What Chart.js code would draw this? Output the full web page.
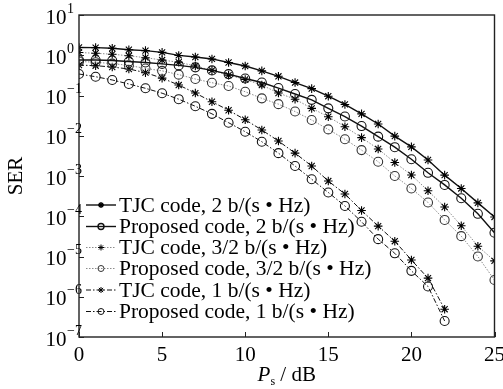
<!DOCTYPE html>
<html>
<head>
<meta charset="utf-8">
<script src="https://cdn.jsdelivr.net/npm/chart.js@4.4.1/dist/chart.umd.min.js"></script>
<style>
  body { margin: 0; background: #fff; }
  #wrap { width: 503px; height: 389px; }
</style>
</head>
<body>
<div id="wrap"><canvas id="serChart"></canvas></div>
<script>
// Ps in dB, one marker per dB
const snr = [0, 1, 2, 3, 4, 5, 6, 7, 8, 9, 10, 11, 12, 13, 14, 15, 16, 17, 18, 19, 20, 21, 22, 23, 24, 25];

const tjc2 = [1.56, 1.55, 1.49, 1.37, 1.30, 1.18, 0.99, 0.905, 0.81, 0.66, 0.54, 0.41, 0.30, 0.21, 0.148, 0.096,
  0.060, 0.035, 0.0196, 0.0098, 0.0053, 0.0025, 0.00105, 4.9e-4, 2.15e-4, 9.6e-5];
const prop2 = [0.76, 0.76, 0.74, 0.70, 0.66, 0.61, 0.56, 0.50, 0.42, 0.34, 0.264, 0.21, 0.153, 0.109, 0.078, 0.048,
  0.030, 0.0174, 0.0095, 0.0052, 0.0026, 0.0012, 6.0e-4, 2.8e-4, 1.15e-4, 3.9e-5];
const tjc32 = [1.17, 1.12, 1.06, 0.97, 0.87, 0.76, 0.67, 0.54, 0.42, 0.32, 0.25, 0.182, 0.115, 0.081, 0.048, 0.0297,
  0.0168, 0.0090, 0.0047, 0.00216, 0.00106, 4.3e-4, 1.7e-4, 5.8e-5, 1.8e-5, 7.8e-6];
const prop32 = [0.70, 0.67, 0.62, 0.56, 0.47, 0.41, 0.33, 0.257, 0.208, 0.172, 0.124, 0.085, 0.061, 0.040, 0.0246, 0.0144,
  0.0082, 0.0044, 0.00226, 0.0010, 4.9e-4, 2.2e-4, 8.1e-5, 3.2e-5, 1.0e-5, 2.6e-6];
const tjc1 = [0.57, 0.55, 0.51, 0.455, 0.37, 0.27, 0.182, 0.115, 0.070, 0.043, 0.025, 0.0139, 0.0074, 0.0037, 0.00177,
  7.5e-4, 3.57e-4, 1.39e-4, 5.7e-5, 2.4e-5, 8.2e-6, 2.9e-6, 4.9e-7];
const prop1 = [0.342, 0.293, 0.243, 0.193, 0.151, 0.114, 0.081, 0.054, 0.035, 0.0211, 0.0126, 0.0071, 0.0037, 0.00177,
  8.3e-4, 3.9e-4, 1.8e-4, 7.3e-5, 2.7e-5, 1.2e-5, 4.4e-6, 1.8e-6, 2.5e-7];

const labels = [
  'TJC code, 2 b/(s \u2022 Hz)',
  'Proposed code, 2 b/(s \u2022 Hz)',
  'TJC code, 3/2 b/(s \u2022 Hz)',
  'Proposed code, 3/2 b/(s \u2022 Hz)',
  'TJC code, 1 b/(s \u2022 Hz)',
  'Proposed code, 1 b/(s \u2022 Hz)'
];
const xTicks = [0, 5, 10, 15, 20, 25];
const yExponents = [1, 0, -1, -2, -3, -4, -5, -6, -7];

const serif = '"Liberation Serif", "Times New Roman", serif';
const toPoints = (vals) => vals.map((v, i) => ({ x: snr[i], y: v }));

function series(label, vals, style) {
  const star = style.marker === 'star';
  return {
    label: label,
    data: toPoints(vals),
    borderColor: style.line,
    borderWidth: style.width,
    borderDash: style.dash,
    pointStyle: style.marker,
    pointRadius: star ? 4.3 : 4.5,
    pointBorderColor: style.markerColor,
    pointBackgroundColor: 'rgba(0,0,0,0)',
    pointBorderWidth: 1.1,
    tension: 0,
    fill: false
  };
}

const solid = { line: '#111', width: 1.4, dash: [] };
const dotted = { line: '#8c8c8c', width: 1, dash: [1.5, 1.5] };
const dashDot = { line: '#111', width: 1, dash: [5, 2, 1.5, 2] };

const datasets = [
  series(labels[0], tjc2, { ...solid, marker: 'star', markerColor: '#000' }),
  series(labels[1], prop2, { ...solid, marker: 'circle', markerColor: '#111' }),
  series(labels[2], tjc32, { ...dotted, marker: 'star', markerColor: '#000' }),
  series(labels[3], prop32, { ...dotted, marker: 'circle', markerColor: '#333' }),
  series(labels[4], tjc1, { ...dashDot, marker: 'star', markerColor: '#000' }),
  series(labels[5], prop1, { ...dashDot, marker: 'circle', markerColor: '#111' })
];

// frame, inward ticks, superscript y labels, x title and the in-plot legend
const decorations = {
  id: 'decorations',
  afterDatasetsDraw(chart) {
    const ctx = chart.ctx;
    const a = chart.chartArea;
    const xs = chart.scales.x;
    const ys = chart.scales.y;
    ctx.save();

    ctx.strokeStyle = '#222';
    ctx.lineWidth = 1.4;
    ctx.setLineDash([]);
    ctx.strokeRect(a.left, a.top, a.right - a.left, a.bottom - a.top);

    ctx.lineWidth = 1;
    ctx.beginPath();
    xTicks.forEach(t => {
      const px = Math.round(xs.getPixelForValue(t)) + 0.5;
      ctx.moveTo(px, a.bottom);
      ctx.lineTo(px, a.bottom - 5);
    });
    yExponents.forEach(e => {
      const py = Math.round(ys.getPixelForValue(Math.pow(10, e))) + 0.5;
      ctx.moveTo(a.left, py);
      ctx.lineTo(a.left + 5, py);
    });
    ctx.stroke();

    ctx.fillStyle = '#000';
    yExponents.forEach(e => {
      const py = ys.getPixelForValue(Math.pow(10, e));
      ctx.font = '21px ' + serif;
      ctx.textAlign = 'right';
      ctx.textBaseline = 'middle';
      ctx.fillText('10', a.left - 12.5, py + 3);
      ctx.font = '14px ' + serif;
      ctx.textAlign = 'left';
      ctx.fillText(e < 0 ? '\u2212' + (-e) : String(e), a.left - 12, py - 6);
    });

    // x title: italic P, subscript s, then " / dB"
    ctx.textBaseline = 'alphabetic';
    ctx.textAlign = 'left';
    ctx.font = 'italic 21px ' + serif;
    const wP = ctx.measureText('P').width;
    ctx.font = '12px ' + serif;
    const wS = ctx.measureText('s').width;
    ctx.font = '21px ' + serif;
    const wRest = ctx.measureText(' / dB').width;
    let tx = (a.left + a.right) / 2 - (wP + wS + wRest) / 2;
    const base = 381;
    ctx.font = 'italic 21px ' + serif;
    ctx.fillText('P', tx, base);
    tx += wP;
    ctx.font = '12px ' + serif;
    ctx.fillText('s', tx, base + 4);
    tx += wS;
    ctx.font = '21px ' + serif;
    ctx.fillText(' / dB', tx, base);

    // legend
    const rowY = [205, 226.5, 247.5, 268.5, 290, 311.5];
    chart.data.datasets.forEach((ds, i) => {
      const y = rowY[i];
      ctx.strokeStyle = ds.borderColor;
      ctx.lineWidth = ds.borderWidth;
      ctx.setLineDash(ds.borderDash);
      ctx.beginPath();
      ctx.moveTo(86, y);
      ctx.lineTo(116, y);
      ctx.stroke();
      ctx.setLineDash([]);
      ctx.strokeStyle = ds.pointBorderColor;
      ctx.fillStyle = 'rgba(0,0,0,0)';
      Chart.helpers.drawPoint(ctx, { pointStyle: ds.pointStyle, rotation: 0, radius: 3, borderWidth: 1 }, 101, y);
      ctx.fillStyle = '#000';
      ctx.font = '21.5px ' + serif;
      ctx.textAlign = 'left';
      ctx.textBaseline = 'middle';
      ctx.fillText(ds.label, 119, y + 1);
    });

    ctx.restore();
  }
};

new Chart(document.getElementById('serChart'), {
  type: 'line',
  data: { datasets: datasets },
  options: {
    responsive: true,
    maintainAspectRatio: false,
    animation: false,
    layout: { padding: { top: 15, right: 7, left: 0, bottom: 0 } },
    plugins: {
      legend: { display: false },
      tooltip: { enabled: false }
    },
    scales: {
      x: {
        type: 'linear',
        min: 0,
        max: 25,
        grid: { display: false },
        border: { display: false },
        ticks: {
          stepSize: 5,
          maxRotation: 0,
          padding: -2,
          color: '#000',
          font: { family: serif, size: 21 }
        },
        afterFit: (s) => { s.height = 52; }
      },
      y: {
        type: 'logarithmic',
        min: 1e-7,
        max: 10,
        grid: { display: false },
        border: { display: false },
        ticks: { display: false },
        title: {
          display: true,
          text: 'SER',
          color: '#000',
          font: { family: serif, size: 21 },
          padding: { top: 4, bottom: 0 }
        },
        afterFit: (s) => { s.width = 79; }
      }
    }
  },
  plugins: [decorations]
});
</script>
</body>
</html>
